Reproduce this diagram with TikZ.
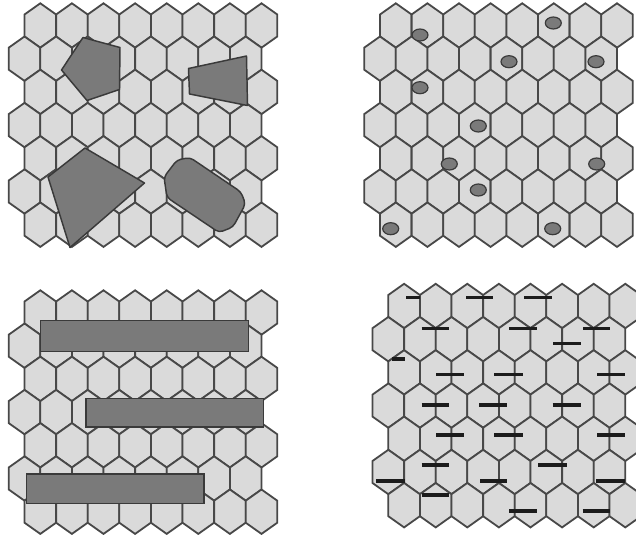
\documentclass[tikz,border=0pt]{standalone}
\definecolor{hexfill}{RGB}{218,218,218}
\definecolor{hexline}{RGB}{72,72,72}
\definecolor{blobfill}{RGB}{122,122,122}
\definecolor{blobline}{RGB}{58,58,58}
\definecolor{dashcol}{RGB}{28,28,28}
\tikzset{
  hexcell/.style={fill=hexfill, draw=hexline, line width=1.35pt, line join=miter},
  blob/.style={fill=blobfill, draw=blobline, line width=1.1pt, line join=round},
  dotmark/.style={fill=blobfill, draw=blobline, line width=0.9pt},
  tickmark/.style={draw=dashcol, line width=2.4pt},
}
\newcommand\hexpanel[2]{%
  \foreach \r in {0,...,6}{%
    \foreach \k in {0,...,7}{%
      \pgfmathsetmacro\cx{#1+15.8*(1-mod(\r,2))+31.6*\k}%
      \pgfmathsetmacro\cy{#2+33.2*\r}%
      \path[hexcell] (\cx,\cy) +(0,-22.2) -- +(15.8,-11) -- +(15.8,11) -- +(0,22.2) -- +(-15.8,11) -- +(-15.8,-11) -- cycle;
    }%
  }%
}
\begin{document}
\begin{tikzpicture}[x=0.75pt,y=-0.75pt]
\fill[white] (0,0) rectangle (636,535);
\useasboundingbox (0,0) rectangle (636,535);

% ---------- panel 1: polygons ----------
\hexpanel{24.5}{25.5}
\path[blob] (83,37.5) -- (120,47.5) -- (119.5,89.5) -- (87,100.5) -- (61.5,70) -- cycle;
\path[blob] (188.5,68.5) -- (246.5,56) -- (247.5,105.5) -- (189.5,94) -- cycle;
\path[blob] (85,148) -- (144.5,183) -- (70,247.5) -- (48,177) -- cycle;
\path[blob, rounded corners=3pt] (164,177) -- (177,160) -- (190,157.5) -- (241,192) -- (245.5,204) -- (233,227) -- (219,232.5) -- (167,197.5) -- cycle;

% ---------- panel 2: dots ----------
\hexpanel{380}{25.5}
\foreach \px/\py in {553.3/23, 420/35, 509/61.7, 596/61.7, 420/87.7, 478.3/126,
                     449.3/164, 596.7/164, 478.3/190, 390.7/228.7, 552.7/228.7}
  \path[dotmark] (\px,\py) ellipse [x radius=8, y radius=6];

% ---------- panel 3: bars ----------
\hexpanel{24.5}{312.5}
\path[blob, line join=miter] (40.7,320.7) rectangle (248.3,351.7);
\path[blob, line join=miter] (86,398.3) rectangle (263.5,427);
\path[blob, line join=miter] (26.7,474) rectangle (204,503.5);

% ---------- panel 4: dashes ----------
\hexpanel{388.3}{306}
\foreach \xa/\xb/\yy in {406/420/297.7, 466/492.7/297.7, 524/551.7/297.7,
    421.7/449.3/328.3, 509/536.7/328.3, 583.3/610/328.3, 553.3/581/343.3,
    391.7/405/359, 436/464/374.3, 494/522.7/374.3, 597.3/625/374.3,
    421.7/449.3/405, 479.3/507.3/405, 552.7/581/405,
    436/464/435, 494/522.7/435, 597.3/625/435,
    421.7/449.3/465, 538.3/566.7/465,
    376/405/481, 480/507.3/481, 596/625/481,
    421.7/449.3/495, 509.3/536.7/511, 582.7/610/511}
  \draw[tickmark] (\xa,\yy) -- (\xb,\yy);
\end{tikzpicture}
\end{document}
